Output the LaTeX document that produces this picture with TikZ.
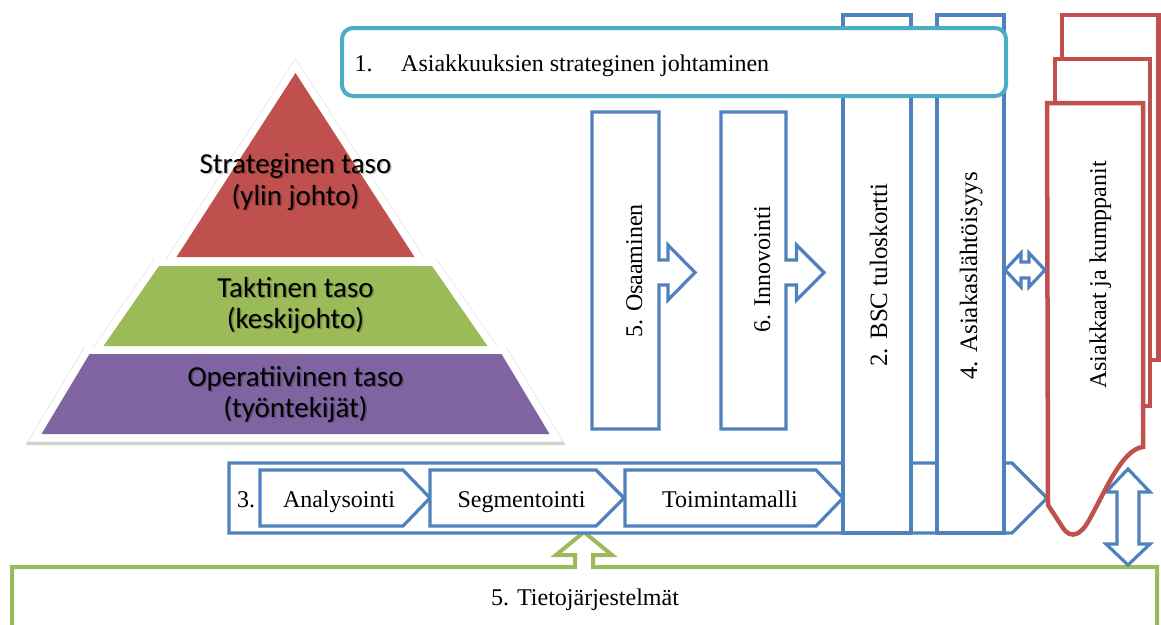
\documentclass[tikz,border=0pt]{standalone}
\usepackage{fontspec}
\setmainfont{Liberation Serif}
\newfontfamily\pyrfont{Carlito}
\definecolor{oblue}{RGB}{79,129,189}
\definecolor{oteal}{RGB}{75,172,198}
\definecolor{ored}{RGB}{192,80,77}
\definecolor{ogreen}{RGB}{155,187,89}
\definecolor{opurple}{RGB}{128,100,162}
\begin{document}
\begin{tikzpicture}[x=1pt,y=-1pt,
  lbl/.style={font=\fontsize{24}{28}\selectfont, inner sep=0pt, text=black},
  biglbl/.style={font=\fontsize{25}{29}\selectfont, inner sep=0pt, text=black},
  pyr/.style={font=\pyrfont\fontsize{29}{32}\selectfont, inner sep=0pt, anchor=base},
  pyrshade/.style={pyr, text=black, text opacity=0.25},
  blueline/.style={draw=oblue, line width=3.2pt, line join=miter, fill=white},
  tealline/.style={draw=oteal, line width=4pt, fill=white, rounded corners=11pt},
  redline/.style={draw=ored, line width=4.5pt, line join=miter, fill=white},
  greenline/.style={draw=ogreen, line width=4pt, line join=miter, fill=white},
  bandshadow/.style={draw=black!18, line width=18pt, line join=miter, shift={(0,2)}},
  bandrim/.style={draw=white, line width=15pt, line join=miter},
]
\useasboundingbox (0,0) rectangle (1161,624);
\clip (0,0) rectangle (1161,624);

% ---------- pyramid of management levels ----------
\foreach \st in {bandshadow, bandrim} {
  \path[\st] (295.5,73) -- (414.5,257) -- (176.5,257) -- cycle;
  \path[\st] (159,266) -- (432,266) -- (487.5,346) -- (103.5,346) -- cycle;
  \path[\st] (89.5,354) -- (501.5,354) -- (549.5,434) -- (41.5,434) -- cycle;
}
\fill[ored]    (295.5,73) -- (414.5,257) -- (176.5,257) -- cycle;
\fill[ogreen]  (159,266) -- (432,266) -- (487.5,346) -- (103.5,346) -- cycle;
\fill[opurple] (89.5,354) -- (501.5,354) -- (549.5,434) -- (41.5,434) -- cycle;

\foreach \x/\y/\t in {295.5/173/Strateginen taso, 295.5/205/(ylin johto),
                      295.5/297/Taktinen taso, 295.5/328/(keskijohto),
                      295.5/386/Operatiivinen taso, 295.5/417/(työntekijät)} {
  \node[pyrshade] at (\x+1.5,\y+1.5) {\t};
}
\node[pyr] (s1) at (295.5,173) {Strateginen taso};
\node[pyr] (s2) at (295.5,205) {(ylin johto)};
\node[pyr] (k1) at (295.5,297) {Taktinen taso};
\node[pyr] (k2) at (295.5,328) {(keskijohto)};
\node[pyr] (o1) at (295.5,386) {Operatiivinen taso};
\node[pyr] (o2) at (295.5,417) {(työntekijät)};

% ---------- information systems base with upward arrow ----------
\draw[greenline] (593,567) -- (593,555) -- (612,555) -- (584,532) -- (556,555)
  -- (575,555) -- (575,567) -- (12,567) -- (12,650) -- (1157,650) -- (1157,567) -- cycle;
\node[lbl, anchor=base] (tj) at (585,605) {5. Tietojärjestelmät};

% ---------- process bar 3 ----------
\draw[blueline] (229,463) -- (1012,463) -- (1047,498) -- (1012,533) -- (229,533) -- cycle;
\draw[blueline] (260,470) -- (403,470) -- (430,498) -- (403,526) -- (260,526) -- cycle;
\draw[blueline] (430,470) -- (596,470) -- (624,498) -- (596,526) -- (430,526) -- cycle;
\draw[blueline] (625,470) -- (816,470) -- (843,498) -- (816,526) -- (625,526) -- cycle;
\node[lbl, anchor=base west] (p3) at (237,507) {3.};
\node[lbl, anchor=base] (an) at (339,507) {Analysointi};
\node[lbl, anchor=base] (se) at (521.5,507) {Segmentointi};
\node[lbl, anchor=base] (to) at (730,507) {Toimintamalli};

% ---------- competence and innovation callouts ----------
\draw[blueline] (592,112) -- (659,112) -- (659,260) -- (668,260) -- (668,245) -- (695,272.5)
  -- (668,300) -- (668,285) -- (659,285) -- (659,429) -- (592,429) -- cycle;
\draw[blueline] (721,112) -- (786,112) -- (786,260) -- (796.5,260) -- (796.5,245) -- (824,272.5)
  -- (796.5,300) -- (796.5,285) -- (786,285) -- (786,429) -- (721,429) -- cycle;
\node[lbl, rotate=90, anchor=base] (os) at (642,271) {5. Osaaminen};
\node[lbl, rotate=90, anchor=base] (in) at (770,269) {6. Innovointi};

% ---------- scorecard and customer orientation columns ----------
\draw[blueline] (843,15) rectangle (911,533);
\draw[blueline] (937,15) rectangle (1004,533);
\node[biglbl, rotate=90, anchor=base] (bsc) at (887,275) {2. BSC tuloskortti};
\node[biglbl, rotate=90, anchor=base] (al) at (977,276) {4. Asiakaslähtöisyys};

% ---------- strategic management banner ----------
\draw[tealline] (342,28) rectangle (1006,96);
\node[lbl, anchor=base west] (n1) at (354.5,71) {1.};
\node[lbl, anchor=base west] (t1) at (401,71) {Asiakkuuksien strateginen johtaminen};

% ---------- vertical double arrow ----------
\draw[blueline] (1128,469) -- (1150,492) -- (1139,492) -- (1139,544) -- (1150,544) -- (1128,565)
  -- (1106,544) -- (1117,544) -- (1117,492) -- (1106,492) -- cycle;

% ---------- customers and partners (stacked pages) ----------
\draw[redline] (1062,15) rectangle (1158.5,360);
\draw[redline] (1055,59) rectangle (1150,406);
\draw[redline] (1047,103) -- (1143,103) -- (1143,447)
  .. controls (1122,449) and (1105,492) .. (1088,522)
  .. controls (1081,534) and (1071,540) .. (1063,528) -- (1048,505) -- cycle;
\node[lbl, rotate=90, anchor=base] (ak) at (1106,275) {Asiakkaat ja kumppanit};

% ---------- horizontal double arrow ----------
\draw[blueline] (1005,270) -- (1021,253) -- (1021,262) -- (1029,262) -- (1029,253) -- (1045,270)
  -- (1029,287) -- (1029,278) -- (1021,278) -- (1021,287) -- cycle;
\end{tikzpicture}
\end{document}
